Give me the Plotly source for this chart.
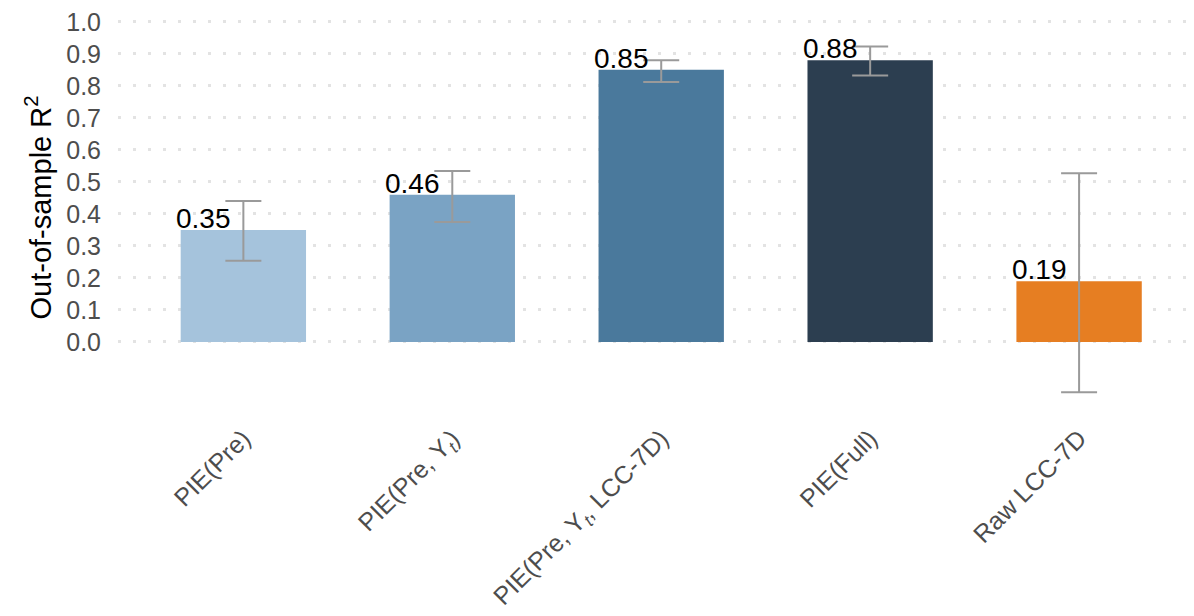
import plotly.graph_objects as go

# Model variants and their out-of-sample R^2 with interval bounds
categories = [
    "PIE(Pre)",
    "PIE(Pre, Y<sub><i>t</i></sub>)",
    "PIE(Pre, Y<sub><i>t</i></sub>, LCC-7D)",
    "PIE(Full)",
    "Raw LCC-7D",
]
r2_values = [0.35, 0.46, 0.85, 0.88, 0.19]
ci_upper = [0.440, 0.534, 0.880, 0.923, 0.527]
ci_lower = [0.254, 0.375, 0.812, 0.832, -0.157]
bar_colors = ["#a5c3dc", "#7aa3c4", "#4a799c", "#2c3e50", "#e67e22"]
y_ticks = [0.0, 0.1, 0.2, 0.3, 0.4, 0.5, 0.6, 0.7, 0.8, 0.9, 1.0]

FONT = "Liberation Sans, Arial, Helvetica, sans-serif"

err_plus = [u - v for u, v in zip(ci_upper, r2_values)]
err_minus = [v - l for v, l in zip(r2_values, ci_lower)]
x_pos = list(range(len(categories)))

fig = go.Figure()
fig.add_trace(
    go.Bar(
        x=x_pos,
        y=r2_values,
        width=0.6,
        marker=dict(color=bar_colors, line=dict(width=0)),
        error_y=dict(
            type="data",
            symmetric=False,
            array=err_plus,
            arrayminus=err_minus,
            color="#9a9a9a",
            thickness=2,
            width=18,
        ),
        hoverinfo="skip",
    )
)

# Value labels sit just above each bar, to the left of the error bar
for xi, v in zip(x_pos, r2_values):
    fig.add_annotation(
        x=xi,
        y=v,
        text=f"{v:.2f}",
        showarrow=False,
        xanchor="right",
        yanchor="bottom",
        xshift=-10,
        yshift=-6,
        font=dict(family=FONT, size=28, color="#000000"),
    )

fig.update_layout(
    width=1194,
    height=616,
    margin=dict(l=118, r=0, t=9, b=210),
    paper_bgcolor="white",
    plot_bgcolor="white",
    showlegend=False,
    font=dict(family=FONT),
    bargap=0.4,
)

fig.update_xaxes(
    range=[-0.6, 4.55],
    tickmode="array",
    tickvals=x_pos,
    ticktext=categories,
    tickangle=-45,
    tickfont=dict(family=FONT, size=25, color="#4d4d4d"),
    showgrid=False,
    zeroline=False,
    showline=False,
    ticks="",
    ticklabelstandoff=12,
)

fig.update_yaxes(
    range=[-0.2, 1.04],
    tickmode="array",
    tickvals=y_ticks,
    ticktext=[f"{t:.1f}" for t in y_ticks],
    tickfont=dict(family=FONT, size=25, color="#4d4d4d"),
    showgrid=True,
    gridcolor="#e3e3e3",
    gridwidth=3,
    griddash="3px,12px",
    zeroline=False,
    showline=False,
    ticks="",
    ticklabelstandoff=16,
    title=dict(
        text="Out-of-sample R<sup>2</sup>",
        font=dict(family=FONT, size=29, color="#000000"),
        standoff=6,
    ),
)

fig.write_html("out.html")
